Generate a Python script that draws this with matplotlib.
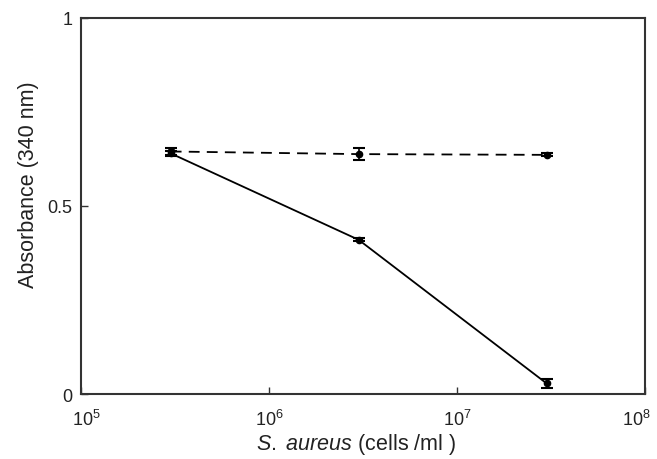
import matplotlib.pyplot as plt
import matplotlib.transforms as mtransforms
import numpy as np

plt.rcParams['font.family'] = ['Liberation Sans', 'DejaVu Sans']
plt.rcParams['mathtext.fontset'] = 'custom'
plt.rcParams['mathtext.rm'] = 'Liberation Sans'
plt.rcParams['mathtext.it'] = 'Liberation Sans:italic'

# data
cells = [3e5, 3e6, 3e7]
abs_solid = [0.640, 0.410, 0.028]
err_solid = [0.006, 0.004, 0.012]
abs_dashed = [0.645, 0.638, 0.636]
err_dashed = [0.010, 0.016, 0.004]

fig = plt.figure(figsize=(6.57, 4.6), dpi=100)
ax = fig.add_axes([0.1233, 0.1413, 0.8584, 0.8174])

ax.errorbar(cells, abs_dashed, yerr=err_dashed, color='black', lw=1.3,
            ls=(0, (6, 4)), marker='o', ms=4.5, capsize=4, elinewidth=1.2, capthick=1.5)
ax.errorbar(cells, abs_solid, yerr=err_solid, color='black', lw=1.3,
            marker='o', ms=4.5, capsize=4, elinewidth=1.2, capthick=1.5)

ax.set_xscale('log')
ax.set_xlim(1e5, 1e8)
ax.set_ylim(0, 1)
ax.set_xticks([1e5, 1e6, 1e7, 1e8])
ax.minorticks_off()
ax.set_yticks([0, 0.5, 1])
ax.set_yticklabels(['0', '0.5', '1'])

for s in ax.spines.values():
    s.set_linewidth(1.5)
    s.set_color('#333333')

ax.tick_params(axis='x', direction='in', length=5, width=1, pad=11, labelsize=13, colors='#333333')
ax.tick_params(axis='y', direction='in', length=5, width=1, pad=6, labelsize=13, colors='#333333')
ax.tick_params(labelcolor='#222222')

# edge labels sit a little inward, as in the original
xlabels = ax.get_xticklabels()
xlabels[0].set_transform(xlabels[0].get_transform() +
                         mtransforms.ScaledTranslation(5 / 100, 0, fig.dpi_scale_trans))
xlabels[-1].set_transform(xlabels[-1].get_transform() +
                          mtransforms.ScaledTranslation(-9 / 100, 0, fig.dpi_scale_trans))

ax.set_xlabel(r'$\mathit{S.}$ $\mathit{aureus}$ (cells /ml )', fontsize=15.5, color='#222222')
ax.xaxis.set_label_coords(0.488, -0.098)
ax.set_ylabel('Absorbance (340 nm)', fontsize=15.5, color='#222222')
ax.yaxis.set_label_coords(-0.074, 0.56)

fig.savefig('out.png', dpi=100)
